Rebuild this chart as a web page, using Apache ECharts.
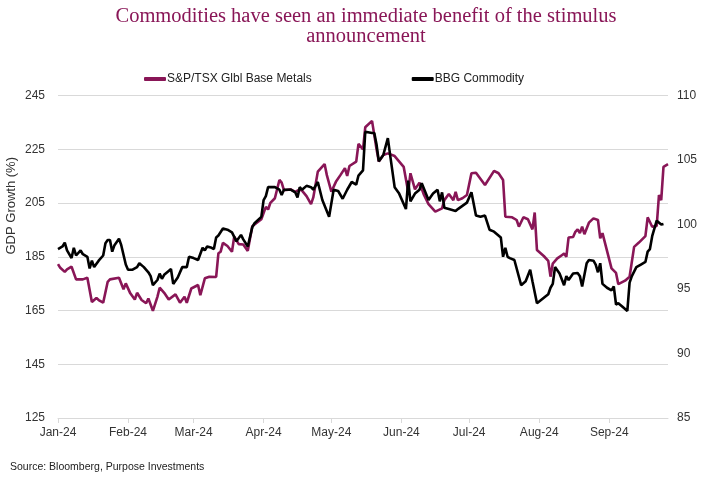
<!DOCTYPE html>
<html>
<head>
<meta charset="utf-8">
<script src="https://cdn.jsdelivr.net/npm/echarts@6/dist/echarts.min.js"></script>
<style>html,body{margin:0;padding:0;background:#fff;}#chart{width:701px;height:485px;}</style>
</head>
<body>
<div id="chart"></div>
<script>
const titleText = 'Commodities have seen an immediate benefit of the stimulus\nannouncement';
const seriesNames = ['S&P/TSX Glbl Base Metals', 'BBG Commodity'];
const monthTicks = ['2024-01-01','2024-02-01','2024-03-01','2024-04-01','2024-05-01','2024-06-01','2024-07-01','2024-08-01','2024-09-01'];
const tickLabels = ['Jan-24','Feb-24','Mar-24','Apr-24','May-24','Jun-24','Jul-24','Aug-24','Sep-24'];
const xMin = '2024-01-01';
const xMax = '2024-09-27';

const metalDates = ['2024-01-01','2024-01-02','2024-01-04','2024-01-05','2024-01-07','2024-01-09','2024-01-12','2024-01-14','2024-01-16','2024-01-18','2024-01-19','2024-01-21','2024-01-23','2024-01-24','2024-01-28','2024-01-30','2024-01-31',
'2024-02-02','2024-02-04','2024-02-05','2024-02-07','2024-02-09','2024-02-10','2024-02-12','2024-02-14','2024-02-15','2024-02-17','2024-02-19','2024-02-22','2024-02-24','2024-02-26','2024-02-27','2024-02-29',
'2024-03-03','2024-03-04','2024-03-06','2024-03-08','2024-03-11','2024-03-12','2024-03-13','2024-03-14','2024-03-16','2024-03-18','2024-03-19','2024-03-21','2024-03-23','2024-03-25','2024-03-27','2024-03-29','2024-03-31',
'2024-04-02','2024-04-03','2024-04-04','2024-04-06','2024-04-08','2024-04-09','2024-04-10','2024-04-13','2024-04-15','2024-04-17','2024-04-18','2024-04-20','2024-04-22','2024-04-23','2024-04-25','2024-04-28','2024-04-29',
'2024-05-01','2024-05-03','2024-05-05','2024-05-07','2024-05-08','2024-05-09','2024-05-12','2024-05-13','2024-05-15','2024-05-16','2024-05-19','2024-05-21','2024-05-22','2024-05-24','2024-05-26','2024-05-29',
'2024-06-02','2024-06-04','2024-06-05','2024-06-07','2024-06-09','2024-06-11','2024-06-13','2024-06-16','2024-06-19','2024-06-20','2024-06-22','2024-06-24','2024-06-25','2024-06-26','2024-06-28','2024-06-30',
'2024-07-02','2024-07-04','2024-07-08','2024-07-12','2024-07-14','2024-07-16','2024-07-17','2024-07-20','2024-07-22','2024-07-23','2024-07-25','2024-07-27','2024-07-29','2024-07-30','2024-07-31',
'2024-08-03','2024-08-05','2024-08-06','2024-08-07','2024-08-09','2024-08-11','2024-08-12','2024-08-13','2024-08-14','2024-08-16','2024-08-17','2024-08-18','2024-08-19','2024-08-20','2024-08-21','2024-08-23','2024-08-25','2024-08-27','2024-08-28','2024-08-29',
'2024-09-02','2024-09-04','2024-09-05','2024-09-08','2024-09-10','2024-09-12','2024-09-14','2024-09-17','2024-09-18','2024-09-20','2024-09-22','2024-09-23','2024-09-24','2024-09-25','2024-09-27'];
const metalValues = [182.3,180.9,179.4,180.3,181.3,176.6,176.6,177.2,168.2,169.7,168.9,167.9,175.7,176.6,177.2,172.9,175.1,
171.4,169.1,171.6,168.9,167.7,169.5,164.9,170.1,173.5,171.6,169.1,171.0,167.9,170.1,167.9,173.2,
174.5,170.7,177.0,177.6,177.5,186.3,186.9,190.2,189.0,186.9,192.5,189.7,189.6,187.2,196.4,197.7,199.0,
203.6,202.6,205.1,206.8,213.6,212.6,209.8,210.1,209.2,210.1,209.6,207.6,204.6,207.1,216.7,219.5,215.4,
209.2,212.9,215.4,218.0,215.1,218.8,220.4,227.0,225.0,233.2,235.6,225.0,220.5,222.9,223.5,222.5,
218.5,209.2,216.1,210.1,212.6,208.0,204.6,201.8,203.0,206.1,208.4,206.1,209.2,206.1,206.8,208.0,
216.1,216.3,211.7,217.0,216.1,213.6,199.9,199.7,198.7,196.2,199.7,199.0,195.2,201.5,187.5,
185.3,183.5,177.6,182.5,184.4,185.6,186.2,185.0,192.2,192.4,194.3,195.2,193.8,196.2,193.4,197.7,199.3,198.7,191.9,193.8,
180.7,179.0,174.8,176.1,177.6,188.7,190.2,192.7,199.7,196.2,196.5,208.0,206.1,218.5,219.5];

const bbgDates = ['2024-01-01','2024-01-03','2024-01-04','2024-01-05','2024-01-07','2024-01-08','2024-01-09','2024-01-11','2024-01-12','2024-01-14','2024-01-15','2024-01-16','2024-01-17','2024-01-19','2024-01-21','2024-01-22','2024-01-23','2024-01-24','2024-01-25','2024-01-26','2024-01-28','2024-01-29','2024-01-31',
'2024-02-01','2024-02-03','2024-02-05','2024-02-06','2024-02-08','2024-02-10','2024-02-11','2024-02-12','2024-02-14','2024-02-15','2024-02-16','2024-02-17','2024-02-19','2024-02-20','2024-02-21','2024-02-23','2024-02-25','2024-02-27','2024-02-28',
'2024-03-01','2024-03-03','2024-03-05','2024-03-06','2024-03-07','2024-03-09','2024-03-10','2024-03-11','2024-03-12','2024-03-14','2024-03-16','2024-03-18','2024-03-20','2024-03-22','2024-03-23','2024-03-25','2024-03-27','2024-03-28','2024-03-31',
'2024-04-01','2024-04-02','2024-04-03','2024-04-06','2024-04-08','2024-04-09','2024-04-10','2024-04-13','2024-04-15','2024-04-16','2024-04-17','2024-04-18','2024-04-20','2024-04-22','2024-04-23','2024-04-24','2024-04-25','2024-04-27','2024-04-30',
'2024-05-02','2024-05-04','2024-05-06','2024-05-08','2024-05-10','2024-05-12','2024-05-13','2024-05-15','2024-05-16','2024-05-19','2024-05-20','2024-05-21','2024-05-22','2024-05-24','2024-05-26','2024-05-27','2024-05-29','2024-05-31',
'2024-06-03','2024-06-04','2024-06-05','2024-06-07','2024-06-09','2024-06-10','2024-06-13','2024-06-15','2024-06-17','2024-06-18','2024-06-19','2024-06-20','2024-06-22','2024-06-25','2024-06-26','2024-06-30',
'2024-07-02','2024-07-04','2024-07-06','2024-07-08','2024-07-10','2024-07-12','2024-07-15','2024-07-16','2024-07-17','2024-07-18','2024-07-19','2024-07-21','2024-07-24','2024-07-26','2024-07-28','2024-07-29','2024-07-31',
'2024-08-05','2024-08-06','2024-08-07','2024-08-08','2024-08-10','2024-08-12','2024-08-13','2024-08-14','2024-08-16','2024-08-18','2024-08-19','2024-08-20','2024-08-22','2024-08-23','2024-08-25','2024-08-26','2024-08-27','2024-08-28','2024-08-29','2024-08-31',
'2024-09-02','2024-09-03','2024-09-04','2024-09-05','2024-09-07','2024-09-09','2024-09-10','2024-09-11','2024-09-13','2024-09-15','2024-09-17','2024-09-18','2024-09-19','2024-09-20','2024-09-22','2024-09-24','2024-09-25'];
const bbgValues = [98.1,98.3,98.6,98.0,97.4,98.2,97.6,98.0,97.7,97.5,96.6,97.2,96.7,97.2,97.6,98.55,98.8,98.8,97.9,98.4,98.9,98.4,96.9,
96.5,96.5,96.7,97.0,96.7,96.3,96.0,95.3,95.7,96.2,95.8,96.1,96.4,96.55,95.4,95.9,96.7,96.7,97.5,
97.4,97.25,98.2,98.0,98.3,98.2,98.1,99.0,99.15,99.7,99.6,99.4,98.7,99.2,98.85,98.3,99.8,100.1,100.6,
101.9,102.2,102.9,102.9,102.7,102.3,102.7,102.7,102.5,102.1,102.9,102.7,103.0,102.9,102.7,103.0,103.3,101.9,100.6,
102.7,102.6,102.0,102.7,103.3,103.1,103.8,104.2,107.2,107.1,107.1,106.2,104.9,105.4,106.7,105.4,102.9,102.4,
101.2,103.4,101.8,102.4,102.7,103.2,101.9,102.4,102.7,101.8,102.5,101.3,101.2,101.05,101.2,101.7,
102.5,100.7,100.6,100.7,99.6,99.45,99.0,97.5,98.2,97.5,97.4,97.25,95.3,95.6,96.5,95.6,93.9,
94.6,95.1,95.4,96.7,96.2,95.3,96.0,95.7,96.2,96.25,96.0,95.2,97.0,97.25,97.2,96.9,96.3,97.0,95.4,95.1,
94.9,95.2,93.8,93.9,93.6,93.3,95.5,96.0,96.7,96.9,97.1,97.9,98.1,99.1,100.3,100.0,100.05];

const ts = s => { const p = s.split('-').map(Number); return Date.UTC(p[0], p[1] - 1, p[2]); };
const tickTs = monthTicks.map(ts);
const purple = '#891657';
const axisFont = '"Liberation Sans", Arial, sans-serif';

const chart = echarts.init(document.getElementById('chart'), null, {renderer: 'canvas'});
chart.setOption({
  animation: false,
  backgroundColor: '#ffffff',
  title: {
    text: titleText,
    left: 361,
    textAlign: 'center',
    top: 2,
    textStyle: {fontFamily: '"Liberation Serif", "DejaVu Serif", serif', fontSize: 20.5, fontWeight: 'normal', color: purple, lineHeight: 20, align: 'center'}
  },
  legend: {
    top: 68,
    left: 139,
    itemGap: 100,
    itemWidth: 22,
    itemHeight: 4,
    icon: 'roundRect',
    textStyle: {fontFamily: axisFont, fontSize: 12, color: '#222', padding: [0, 0, 0, -4]},
    data: seriesNames
  },
  grid: {left: 58, right: 33, top: 95.6, bottom: 67, containLabel: false},
  xAxis: {
    type: 'value',
    min: ts(xMin),
    max: ts(xMax),
    axisLine: {show: true, lineStyle: {color: '#d9d9d9', width: 1}},
    axisTick: {show: true, length: 5, lineStyle: {color: '#d9d9d9'}, customValues: tickTs},
    splitLine: {show: false},
    axisLabel: {
      customValues: tickTs,
      showMinLabel: true,
      showMaxLabel: true,
      margin: 9,
      fontFamily: axisFont, fontSize: 12, color: '#333',
      formatter: v => { const i = tickTs.indexOf(v); return i >= 0 ? tickLabels[i] : ''; }
    }
  },
  yAxis: [
    {
      type: 'value', min: 125, max: 245, interval: 20,
      axisLine: {show: false}, axisTick: {show: false},
      splitLine: {show: true, lineStyle: {color: '#d9d9d9', width: 1}},
      axisLabel: {margin: 13, fontFamily: axisFont, fontSize: 12, color: '#333'}
    },
    {
      type: 'value', min: 85, max: 110, interval: 5,
      axisLine: {show: false}, axisTick: {show: false},
      splitLine: {show: false},
      axisLabel: {margin: 9, fontFamily: axisFont, fontSize: 12, color: '#333'}
    }
  ],
  graphic: [
    {type: 'text', left: 5, top: 157, rotation: Math.PI / 2,
     style: {text: 'GDP Growth (%)', font: '13px "Liberation Sans", Arial, sans-serif', fill: '#333'}},
    {type: 'text', left: 10, top: 462,
     style: {text: 'Source: Bloomberg, Purpose Investments', font: '10.5px "Liberation Sans", Arial, sans-serif', fill: '#222'}}
  ],
  series: [
    {
      name: seriesNames[0], type: 'line', yAxisIndex: 0, showSymbol: false, symbol: 'none',
      lineStyle: {color: purple, width: 2.6}, itemStyle: {color: purple},
      data: metalDates.map((d, i) => [ts(d), metalValues[i]])
    },
    {
      name: seriesNames[1], type: 'line', yAxisIndex: 1, showSymbol: false, symbol: 'none',
      lineStyle: {color: '#000', width: 2.6}, itemStyle: {color: '#000'},
      data: bbgDates.map((d, i) => [ts(d), bbgValues[i]])
    }
  ]
});
</script>
</body>
</html>
